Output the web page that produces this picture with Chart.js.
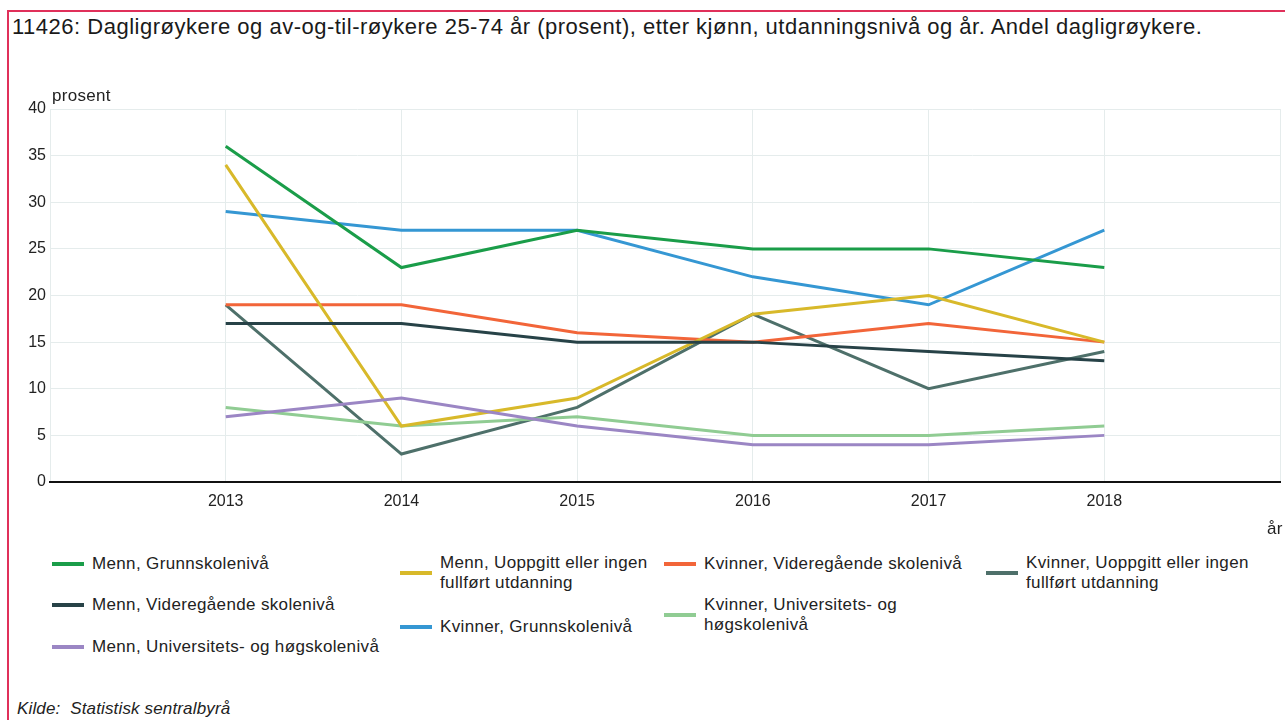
<!DOCTYPE html>
<html lang="no">
<head>
<meta charset="utf-8">
<title>11426: Dagligrøykere og av-og-til-røykere</title>
<script src="https://cdn.jsdelivr.net/npm/chart.js@4/dist/chart.umd.min.js"></script>
<style>
    html, body {
        margin: 0;
        padding: 0;
        background: #fff;
    }
    body {
        position: relative;
        width: 1285px;
        height: 720px;
        overflow: hidden;
        font-family: "Liberation Sans", Arial, sans-serif;
        color: #222;
    }
    .frame {
        position: absolute;
        left: 7px;
        top: 10px;
        width: 1400px;
        height: 800px;
        border-left: 2px solid #e0305a;
        border-top: 2px solid #e0305a;
    }
    .title {
        position: absolute;
        left: 12px;
        top: 14px;
        font-size: 22px;
        letter-spacing: 0.5px;
        color: #1a1a1a;
        white-space: nowrap;
    }
    .chart-box {
        position: absolute;
        left: 0;
        top: 0;
        width: 1290px;
        height: 520px;
    }
    .unit {
        position: absolute;
        font-size: 17px;
        letter-spacing: 0.3px;
        color: #222;
    }
    .legend-item {
        position: absolute;
        display: flex;
        align-items: center;
        transform: translateY(-50%);
        font-size: 17px;
        letter-spacing: 0.35px;
        line-height: 20px;
        color: #222;
    }
    .legend-item .swatch {
        flex: none;
        width: 32px;
        height: 4px;
        margin-right: 8px;
    }
    .source {
        position: absolute;
        left: 17px;
        top: 699px;
        font-size: 17px;
        letter-spacing: 0.15px;
        font-style: italic;
        color: #222;
        white-space: pre;
    }
</style>
</head>
<body>
<div class="frame"></div>
<div class="title">11426: Dagligrøykere og av-og-til-røykere 25-74 år (prosent), etter kjønn, utdanningsnivå og år. Andel dagligrøykere.</div>
<div class="chart-box"><canvas id="smokersChart" width="1290" height="520"></canvas></div>
<div class="unit" style="left:52px; top:86px;">prosent</div>
<div class="unit" style="left:1267px; top:519px;">år</div>
<div id="legend"></div>
<div class="source">Kilde:  Statistisk sentralbyrå</div>

<script>
// Years on the x axis
const years = [2013, 2014, 2015, 2016, 2017, 2018];

// Share of daily smokers (prosent), one array per group
const mennGrunnskole = [36, 23, 27, 25, 25, 23];
const mennVideregaende = [17, 17, 15, 15, 14, 13];
const mennUniversitet = [7, 9, 6, 4, 4, 5];
const mennUoppgitt = [34, 6, 9, 18, 20, 15];
const kvinnerGrunnskole = [29, 27, 27, 22, 19, 27];
const kvinnerVideregaende = [19, 19, 16, 15, 17, 15];
const kvinnerUniversitet = [8, 6, 7, 5, 5, 6];
const kvinnerUoppgitt = [19, 3, 8, 18, 10, 14];

// Y axis ticks
const yTicks = [0, 5, 10, 15, 20, 25, 30, 35, 40];

const series = [
    { label: 'Menn, Grunnskolenivå', values: mennGrunnskole, color: '#1a9d49' },
    { label: 'Menn, Videregående skolenivå', values: mennVideregaende, color: '#274247' },
    { label: 'Menn, Universitets- og høgskolenivå', values: mennUniversitet, color: '#9b86c4' },
    { label: 'Menn, Uoppgitt eller ingen fullført utdanning', values: mennUoppgitt, color: '#d8b92a' },
    { label: 'Kvinner, Grunnskolenivå', values: kvinnerGrunnskole, color: '#3597d3' },
    { label: 'Kvinner, Videregående skolenivå', values: kvinnerVideregaende, color: '#f26539' },
    { label: 'Kvinner, Universitets- og høgskolenivå', values: kvinnerUniversitet, color: '#90cc93' },
    { label: 'Kvinner, Uoppgitt eller ingen fullført utdanning', values: kvinnerUoppgitt, color: '#4e706a' }
];

// Legend slots (left edge of swatch, vertical centre, text width)
const legendSlots = [
    { left: 52, top: 564, width: 330 },
    { left: 52, top: 605, width: 330 },
    { left: 52, top: 647, width: 330 },
    { left: 400, top: 573, width: 225 },
    { left: 400, top: 627, width: 225 },
    { left: 664, top: 564, width: 270 },
    { left: 664, top: 615, width: 270 },
    { left: 986, top: 573, width: 240 }
];

const gridColor = '#e5ecec';
const tickFont = { family: '"Liberation Sans", Arial, sans-serif', size: 16 };

const datasets = series.map(s => ({
    label: s.label,
    data: years.map((year, i) => ({ x: year, y: s.values[i] })),
    borderColor: s.color,
    backgroundColor: s.color,
    borderWidth: 3,
    pointRadius: 0,
    pointHoverRadius: 0,
    tension: 0,
    fill: false
}));

new Chart(document.getElementById('smokersChart'), {
    type: 'line',
    data: { datasets: datasets },
    options: {
        responsive: false,
        devicePixelRatio: 1,
        animation: false,
        layout: {
            padding: { top: 109, right: 2, bottom: 0, left: 0 }
        },
        plugins: {
            legend: { display: false },
            tooltip: { enabled: false }
        },
        scales: {
            x: {
                type: 'linear',
                min: years[0] - 1,
                max: years[years.length - 1] + 1,
                afterFit: scale => { scale.height = 38; },
                ticks: {
                    stepSize: 1,
                    autoSkip: false,
                    maxRotation: 0,
                    padding: 10,
                    color: '#222',
                    font: tickFont,
                    callback: value => years.includes(value) ? String(value) : ''
                },
                grid: {
                    color: gridColor,
                    drawTicks: false
                },
                border: {
                    color: '#111',
                    width: 2
                }
            },
            y: {
                min: yTicks[0],
                max: yTicks[yTicks.length - 1],
                afterFit: scale => { scale.width = 50; },
                afterBuildTicks: scale => {
                    scale.ticks = yTicks.map(v => ({ value: v }));
                },
                ticks: {
                    padding: 4,
                    color: '#222',
                    font: tickFont
                },
                grid: {
                    color: gridColor,
                    drawTicks: false
                },
                border: { display: false }
            }
        }
    }
});

// HTML legend, laid out in four columns
const legendEl = document.getElementById('legend');
series.forEach((s, i) => {
    const slot = legendSlots[i];
    const item = document.createElement('div');
    item.className = 'legend-item';
    item.style.left = slot.left + 'px';
    item.style.top = slot.top + 'px';

    const swatch = document.createElement('span');
    swatch.className = 'swatch';
    swatch.style.background = s.color;

    const text = document.createElement('span');
    text.style.maxWidth = slot.width + 'px';
    text.textContent = s.label;

    item.appendChild(swatch);
    item.appendChild(text);
    legendEl.appendChild(item);
});
</script>
</body>
</html>
